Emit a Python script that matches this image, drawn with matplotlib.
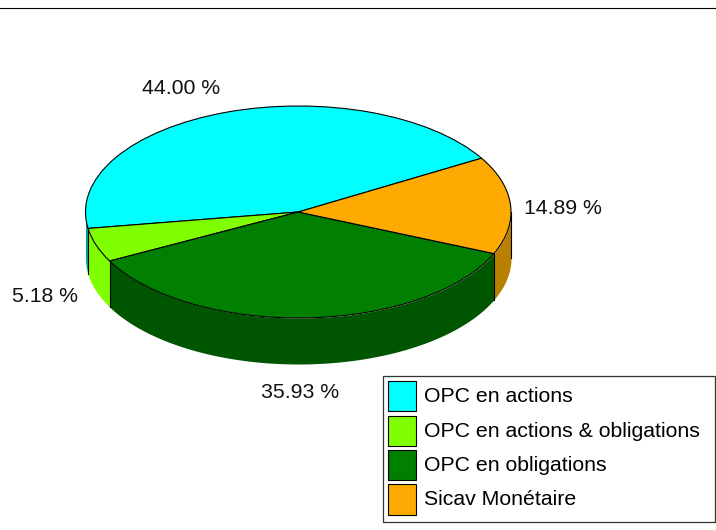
import numpy as np
import matplotlib
matplotlib.use("Agg")
import matplotlib.pyplot as plt
from matplotlib.lines import Line2D
from matplotlib.patches import Patch, Rectangle

plt.rcParams['font.family'] = ['Liberation Sans', 'DejaVu Sans']

# data
categories = ['OPC en actions', 'OPC en actions & obligations', 'OPC en obligations', 'Sicav Monétaire']
values = [44.00, 5.18, 35.93, 14.89]
pct_labels = ['44.00 %', '5.18 %', '35.93 %', '14.89 %']
top_colors = ['#00FFFF', '#7FFF00', '#007F00', '#FFAA00']
wall_colors = ['#00A0A0', '#7FFF00', '#005500', '#B87F00']

W, H = 716, 530
start = 30.5
depth = 46 / 106  # wall height, in units of the vertical radius
LW = 0.8
FS = 15.3


def fx(x):
    return x / W


def fy(y):
    return 1 - y / H


fig = plt.figure(figsize=(W / 100, H / 100), dpi=100)

# axes box : x -1..1 -> 85.5..511 px, y 1..-1.5 -> 106..371 px
ax = fig.add_axes([fx(85.5), fy(371), (511 - 85.5) / W, (371 - 106) / H])
wedges, _ = ax.pie(values, colors=top_colors, startangle=start, radius=1,
                   wedgeprops={'edgecolor': 'black', 'linewidth': LW, 'zorder': 3})
ax.set_aspect('auto')
ax.set_xlim(-1, 1)
ax.set_ylim(-1.5, 1)
ax.axis('off')

# side wall, only the front half (180..360 deg) can be seen
angles = start + np.cumsum([0] + values) * 3.6
for i in range(len(values)):
    for lo, hi in [(angles[i], angles[i + 1]), (angles[i] - 360, angles[i + 1] - 360)]:
        a = max(lo, 180)
        b = min(hi, 360)
        if a >= b:
            continue
        t = np.radians(np.linspace(a, b, 120))
        ax.fill_between(np.cos(t), np.sin(t), np.sin(t) - depth, color=wall_colors[i],
                        linewidth=0, zorder=1, clip_on=False)

# vertical edges: slice boundaries on the front and the right silhouette
for a in list(angles % 360) + [360]:
    if 180 <= a <= 360:
        t = np.radians(a)
        ax.plot([np.cos(t), np.cos(t)], [np.sin(t), np.sin(t) - depth], color='black',
                lw=LW, zorder=2, clip_on=False)

# percent labels
label_pos = [(181, 89), (45, 296), (300, 393), (563, 209)]
for s, (x, y) in zip(pct_labels, label_pos):
    fig.text(fx(x), fy(y), s, fontsize=FS, ha='center', va='center', color='#111111')

# top rule
fig.add_artist(Line2D([0, 1], [fy(7.5), fy(7.5)], color='black', lw=0.8))

# legend frame and entries
fig.add_artist(Rectangle((fx(383), fy(522)), (715 - 383) / W, (522 - 376) / H, transform=fig.transFigure,
                         facecolor='white', edgecolor='#333333', lw=0.9, zorder=4))
handles = [Patch(facecolor=c, edgecolor='black', linewidth=LW) for c in top_colors]
leg = fig.legend(handles, categories, loc='upper left', bbox_to_anchor=(fx(383), fy(376)),
                 frameon=False, fontsize=FS, handlelength=1.33, handleheight=1.81,
                 labelspacing=0.2, handletextpad=0.37, borderpad=0.24, borderaxespad=0)
leg.set_zorder(5)
for txt in leg.get_texts():
    txt.set_y(1)

fig.savefig('out.png', dpi=100)
